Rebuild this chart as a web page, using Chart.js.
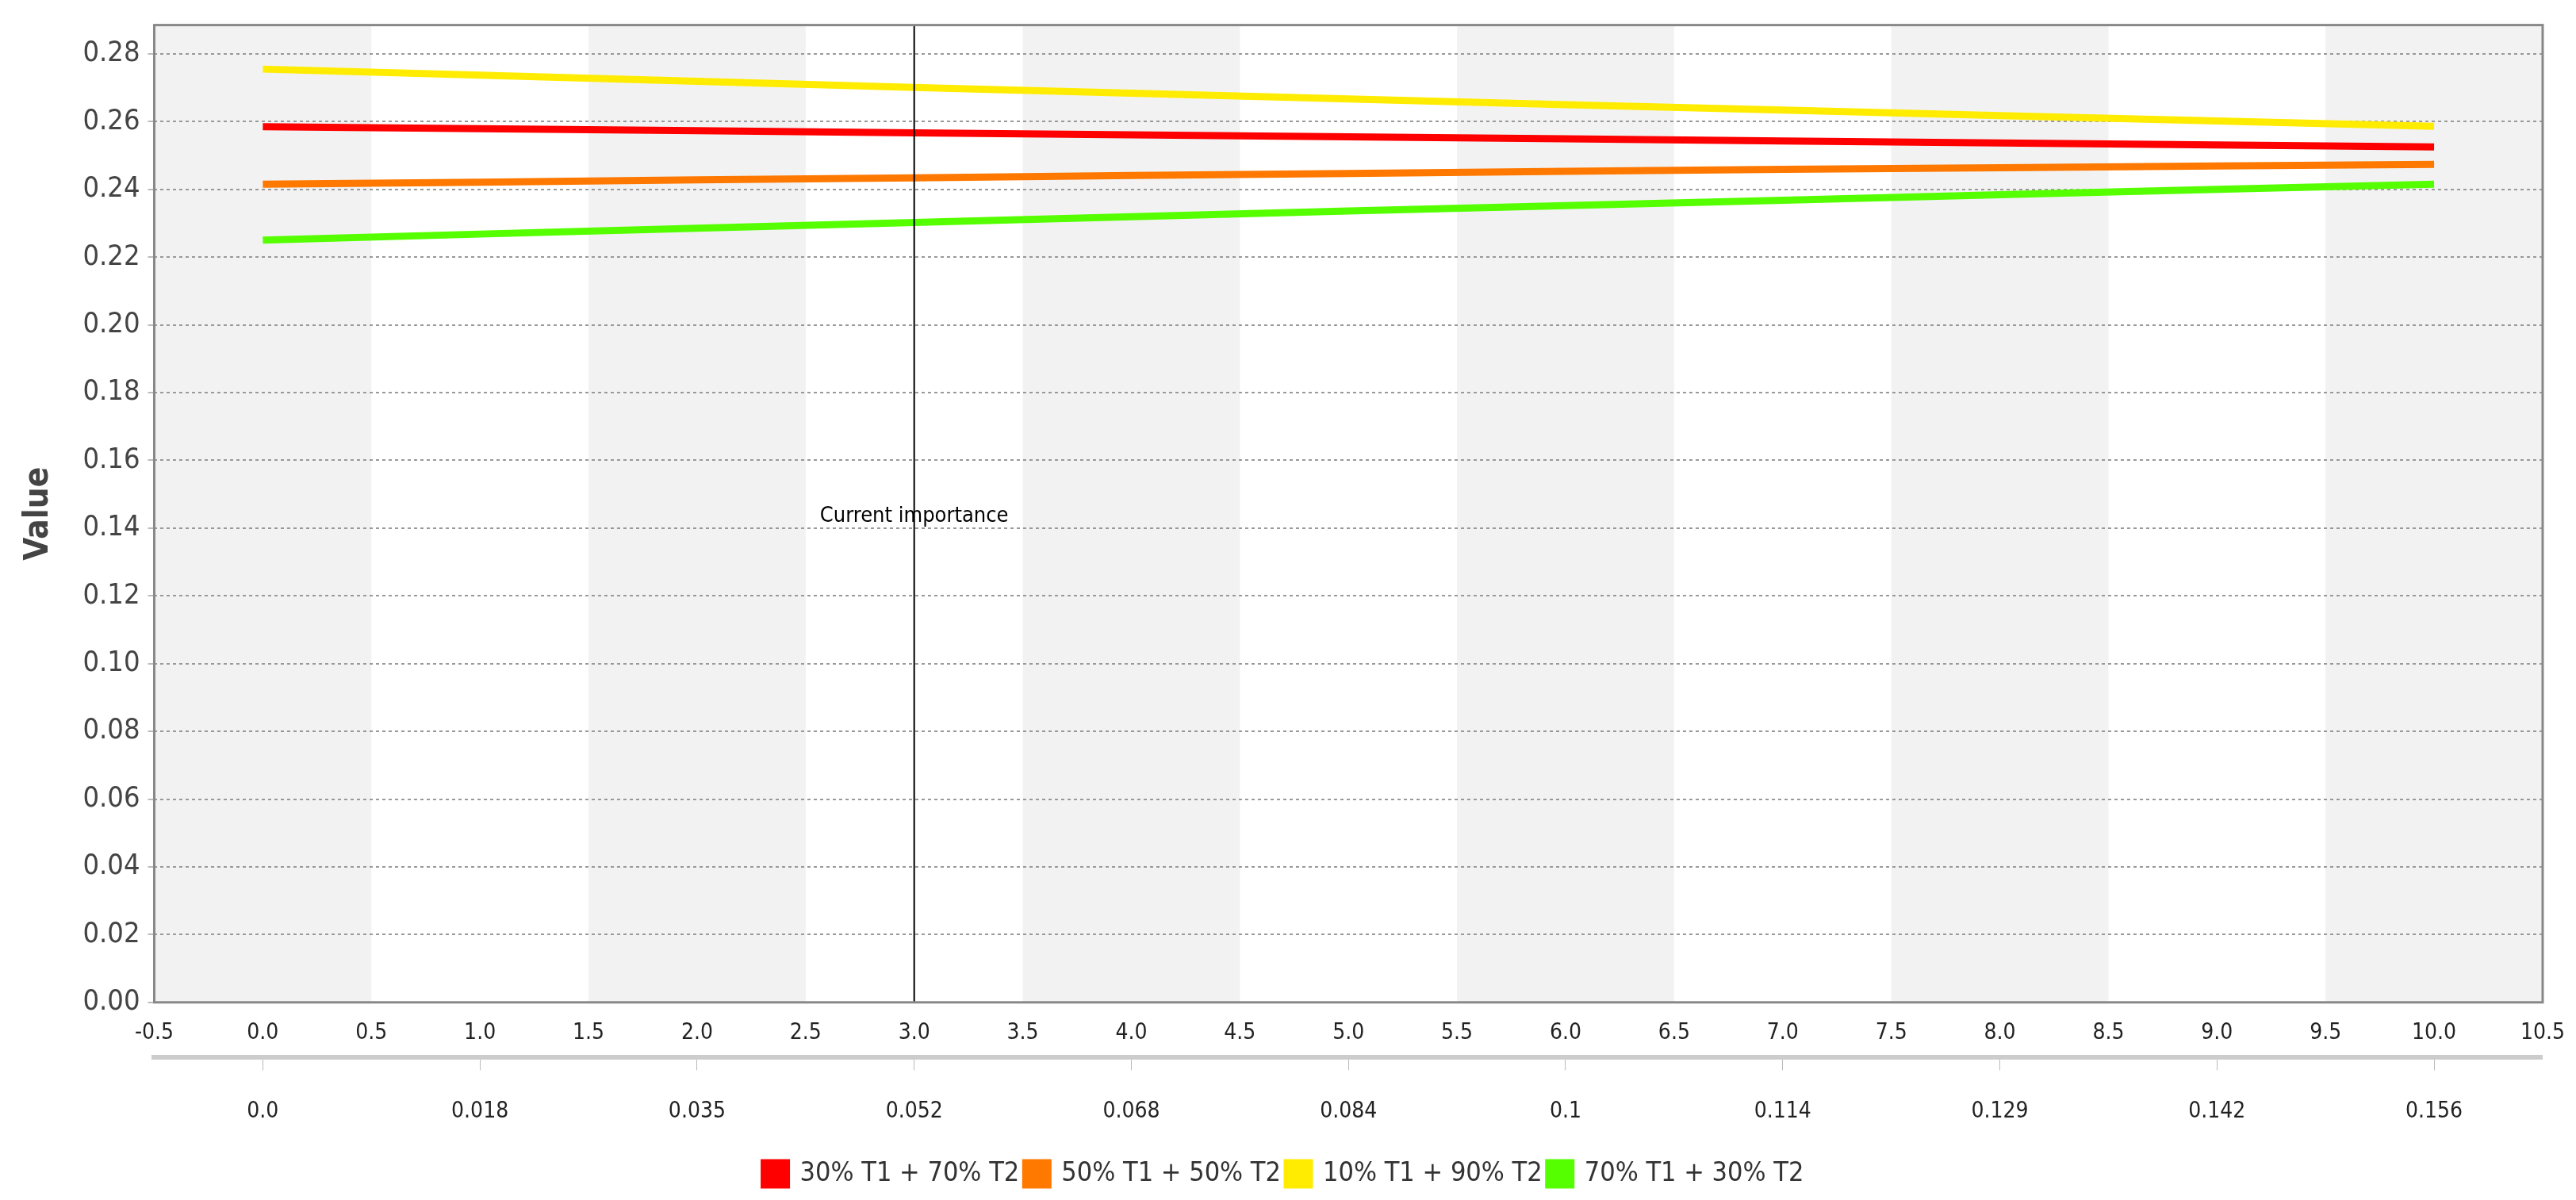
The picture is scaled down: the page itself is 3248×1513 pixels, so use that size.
<!DOCTYPE html>
<html>
<head>
<meta charset="utf-8">
<script src="https://cdn.jsdelivr.net/npm/chart.js@4/dist/chart.umd.min.js"></script>
<style>
  html, body { margin: 0; padding: 0; background: #fff; }
  #wrap { width: 3248px; height: 1513px; }
</style>
</head>
<body>
<div id="wrap"><canvas id="chart"></canvas></div>
<script>
// x positions and the second-row labels under them
const steps = [0, 1, 2, 3, 4, 5, 6, 7, 8, 9, 10];
const importanceLabels = ['0.0', '0.018', '0.035', '0.052', '0.068', '0.084', '0.1', '0.114', '0.129', '0.142', '0.156'];

const seriesNames = ['30% T1 + 70% T2', '50% T1 + 50% T2', '10% T1 + 90% T2', '70% T1 + 30% T2'];
const seriesColors = ['#ff0000', '#ff7800', '#ffec00', '#55ff00'];

const red = [0.2585, 0.2579, 0.2573, 0.2567, 0.2561, 0.2555, 0.2549, 0.2543, 0.2537, 0.2531, 0.2525];
const orange = [0.2415, 0.2421, 0.2428, 0.2434, 0.2441, 0.2447, 0.2453, 0.2459, 0.2464, 0.2469, 0.2474];
const yellow = [0.2755, 0.2737, 0.2719, 0.2701, 0.2684, 0.2667, 0.2650, 0.2634, 0.2618, 0.2602, 0.2586];
const green = [0.2250, 0.2268, 0.2285, 0.2302, 0.2319, 0.2336, 0.2352, 0.2368, 0.2384, 0.2400, 0.2415];
const seriesValues = [red, orange, yellow, green];

const currentImportance = 3;
const markerLabel = 'Current importance';

const FONT = '"Liberation Sans Narrow", "DejaVu Sans Condensed", "Liberation Sans", sans-serif';

// alternating gray bands (under the grid), then the marker line and frame
const backdrop = {
    id: 'backdrop',
    beforeDraw(chart) {
        const { ctx, chartArea, scales } = chart;
        const x = scales.x;
        ctx.save();
        ctx.fillStyle = '#f2f2f2';
        for (let c = 0; c <= 10; c += 2) {
            const l = Math.max(x.getPixelForValue(c - 0.5), chartArea.left);
            const r = Math.min(x.getPixelForValue(c + 0.5), chartArea.right);
            ctx.fillRect(l, chartArea.top, r - l, chartArea.bottom - chartArea.top);
        }
        ctx.restore();
    },
    afterDatasetsDraw(chart) {
        const { ctx, chartArea, scales } = chart;
        const px = scales.x.getPixelForValue(currentImportance);
        ctx.save();
        ctx.strokeStyle = '#000';
        ctx.lineWidth = 2;
        ctx.beginPath();
        ctx.moveTo(px, chartArea.top);
        ctx.lineTo(px, chartArea.bottom);
        ctx.stroke();
        ctx.fillStyle = '#000';
        ctx.font = '27px ' + FONT;
        ctx.textAlign = 'center';
        ctx.fillText(markerLabel, px, scales.y.getPixelForValue(0.1435));
        ctx.strokeStyle = '#888';
        ctx.lineWidth = 3;
        ctx.strokeRect(chartArea.left, chartArea.top, chartArea.right - chartArea.left, chartArea.bottom - chartArea.top);
        ctx.restore();
    }
};

const datasets = seriesNames.map((name, i) => ({
    label: name,
    data: steps.map((s, j) => ({ x: s, y: seriesValues[i][j] })),
    borderColor: seriesColors[i],
    backgroundColor: seriesColors[i],
    borderWidth: 9,
    pointRadius: 0,
    tension: 0,
    xAxisID: 'x'
}));

new Chart(document.getElementById('chart'), {
    type: 'line',
    data: { datasets },
    plugins: [backdrop],
    options: {
        responsive: true,
        maintainAspectRatio: false,
        animation: false,
        layout: { padding: { top: 16, right: 30, left: 20, bottom: 6 } },
        plugins: {
            legend: {
                position: 'bottom',
                labels: {
                    font: { family: FONT, size: 34 },
                    color: '#333',
                    boxWidth: 28,
                    boxHeight: 28,
                    padding: 8
                }
            },
            tooltip: { enabled: false }
        },
        scales: {
            x: {
                type: 'linear',
                min: -0.5,
                max: 10.5,
                position: 'bottom',
                ticks: {
                    stepSize: 0.5,
                    font: { family: FONT, size: 28 },
                    color: '#222',
                    maxRotation: 0,
                    autoSkip: false,
                    padding: 14,
                    callback: v => v.toFixed(1)
                },
                grid: { display: false },
                border: { display: false }
            },
            x2: {
                type: 'linear',
                min: -0.5,
                max: 10.5,
                position: 'bottom',
                afterBuildTicks: axis => { axis.ticks = steps.map(v => ({ value: v })); },
                ticks: {
                    font: { family: FONT, size: 28 },
                    color: '#222',
                    maxRotation: 0,
                    autoSkip: false,
                    padding: 36,
                    callback: (v) => importanceLabels[steps.indexOf(v)]
                },
                grid: { drawOnChartArea: false, tickLength: 16, color: '#bbb' },
                border: { display: true, color: '#ccc', width: 6 }
            },
            y: {
                min: 0,
                max: 0.2885,
                afterBuildTicks: axis => {
                    const t = [];
                    for (let k = 0; k <= 14; k++) t.push({ value: k * 0.02 });
                    axis.ticks = t;
                },
                ticks: {
                    font: { family: FONT, size: 36 },
                    color: '#444',
                    padding: 10,
                    callback: v => v.toFixed(2)
                },
                title: {
                    display: true,
                    text: 'Value',
                    font: { family: FONT, size: 42, weight: 'bold' },
                    color: '#444',
                    padding: { bottom: 20 }
                },
                grid: {
                    color: '#999',
                    lineWidth: 2,
                    tickLength: 8,
                    tickColor: '#bbb'
                },
                border: { dash: [4, 4], display: false }
            }
        }
    }
});
</script>
</body>
</html>
